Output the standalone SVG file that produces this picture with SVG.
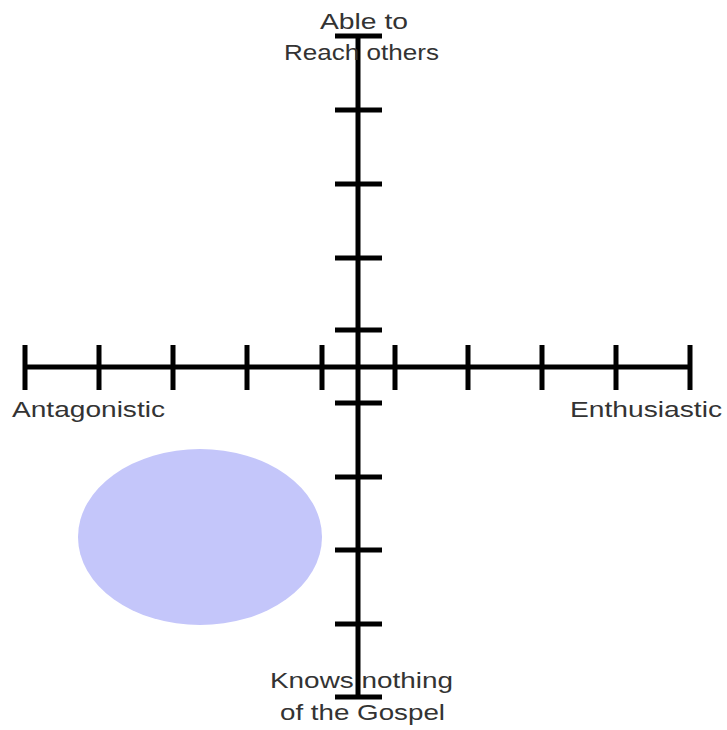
<svg xmlns="http://www.w3.org/2000/svg" width="727" height="730" viewBox="0 0 727 730">
<style>
.ax{stroke:#000;stroke-width:5;fill:none;stroke-linecap:butt}
.lb{font-family:"Liberation Sans",Arial,sans-serif;font-size:22px;fill:#333}
</style>
<rect width="727" height="730" fill="#fff"/>
<ellipse cx="200" cy="537" rx="122" ry="88" fill="#c4c6fa"/>
<g id="axes">
<path class="ax" d="M358 36V697M25 367H690"/>
<path class="ax" d="M335 36H382M335 110H382M335 184H382M335 258H382M335 330H382M335 403H382M335 477H382M335 550H382M335 624H382M335 697H382"/>
<path class="ax" d="M25 345V390M99 345V390M173 345V390M247 345V390M322 345V390M395 345V390M468 345V390M542 345V390M616 345V390M690 345V390"/>
</g>
<text class="lb" x="320" y="29" textLength="88" lengthAdjust="spacingAndGlyphs">Able to</text>
<text class="lb" x="284" y="60" textLength="155" lengthAdjust="spacingAndGlyphs">Reach others</text>
<text class="lb" x="12" y="417" textLength="153" lengthAdjust="spacingAndGlyphs">Antagonistic</text>
<text class="lb" x="570" y="417" textLength="152" lengthAdjust="spacingAndGlyphs">Enthusiastic</text>
<text class="lb" x="270" y="688" textLength="183" lengthAdjust="spacingAndGlyphs">Knows nothing</text>
<text class="lb" x="280" y="720" textLength="165" lengthAdjust="spacingAndGlyphs">of the Gospel</text>
</svg>
